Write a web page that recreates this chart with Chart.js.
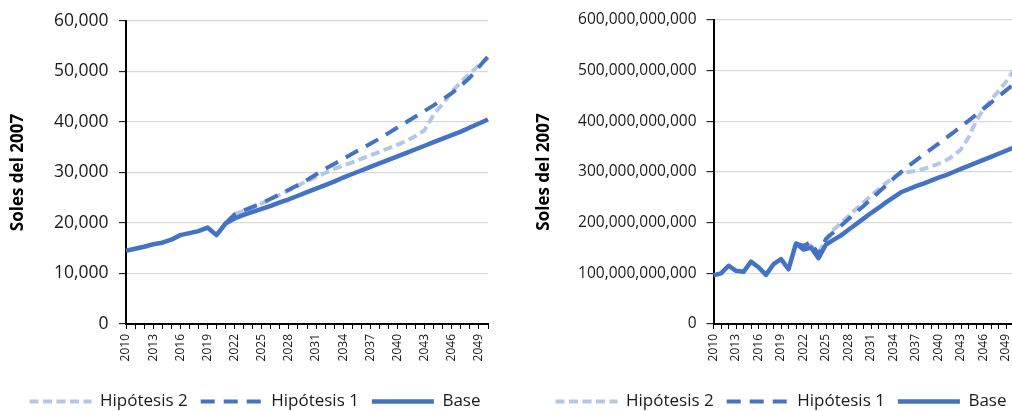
<!DOCTYPE html>
<html>
<head>
<meta charset="utf-8">
<script src="https://cdn.jsdelivr.net/npm/chart.js@4.4.1/dist/chart.umd.min.js"></script>
<style>
  html, body { margin: 0; padding: 0; background: #fff; overflow: hidden; width: 1012px; height: 411px; }
  .box { position: absolute; top: 0; height: 420px; }
  #leftBox { left: 0; width: 510px; }
  #rightBox { left: 520px; width: 522px; }
</style>
</head>
<body>
<div class="box" id="leftBox"><canvas id="leftChart"></canvas></div>
<div class="box" id="rightBox"><canvas id="rightChart"></canvas></div>
<script>
// categories
const years = ['2010','2011','2012','2013','2014','2015','2016','2017','2018','2019',
  '2020','2021','2022','2023','2024','2025','2026','2027','2028','2029',
  '2030','2031','2032','2033','2034','2035','2036','2037','2038','2039',
  '2040','2041','2042','2043','2044','2045','2046','2047','2048','2049','2050'];
const tickYears = ['2010','2013','2016','2019','2022','2025','2028','2031','2034','2037','2040','2043','2046','2049'];

// left chart (soles del 2007)
const leftBase = [14500, 14900, 15300, 15800, 16100, 16700, 17600, 18000, 18400, 19100,
  17600, 19900, 20900, 21600, 22200, 22800, 23400, 24100, 24700, 25400,
  26100, 26800, 27500, 28200, 29000, 29700, 30400, 31100, 31800, 32500,
  33200, 33900, 34600, 35300, 36000, 36700, 37400, 38100, 38900, 39700, 40500];
const leftHyp1 = [null, null, null, null, null, null, null, null, null, null,
  null, 19900, 21700, 22500, 23200, 23900, 24800, 25700, 26600, 27500,
  28500, 29600, 30700, 31700, 32700, 33700, 34700, 35700, 36700, 37800,
  38900, 40000, 41100, 42200, 43300, 44500, 45700, 47200, 48800, 50900, 53000];
const leftHyp2 = [null, null, null, null, null, null, null, null, null, null,
  null, 19900, 21800, 22400, 23100, 23900, 24700, 25600, 26500, 27400,
  28300, 29100, 29900, 30700, 31400, 32000, 32700, 33400, 34100, 34800,
  35500, 36300, 37200, 38400, 41500, 43600, 46000, 47900, 49600, 51200, 52700];
const leftYTicks = [0, 10000, 20000, 30000, 40000, 50000, 60000];

// right chart (soles del 2007)
const rightBase = [96e9, 100e9, 115e9, 105e9, 103e9, 123e9, 112e9, 97e9, 118e9, 128e9,
  108e9, 159e9, 147e9, 151e9, 130e9, 157e9, 166e9, 175e9, 186e9, 197e9,
  208e9, 219e9, 229e9, 240e9, 250e9, 260e9, 266e9, 272e9, 277e9, 283e9,
  289e9, 294e9, 300e9, 306e9, 312e9, 318e9, 324e9, 330e9, 336e9, 342e9, 348e9];
const rightHyp1 = [null, null, null, null, null, null, null, null, null, null,
  null, 159e9, 154e9, 162e9, 136e9, 168e9, 181e9, 194e9, 207e9, 220e9,
  233e9, 246e9, 260e9, 273e9, 287e9, 300e9, 312e9, 323e9, 334e9, 345e9,
  356e9, 367e9, 378e9, 390e9, 401e9, 413e9, 425e9, 437e9, 449e9, 461e9, 473e9];
const rightHyp2 = [null, null, null, null, null, null, null, null, null, null,
  null, 159e9, 151e9, 155e9, 140e9, 168e9, 186e9, 199e9, 213e9, 227e9,
  240e9, 253e9, 266e9, 278e9, 290e9, 297e9, 300e9, 302e9, 306e9, 311e9,
  316e9, 323e9, 332e9, 345e9, 368e9, 400e9, 424e9, 442e9, 460e9, 478e9, 500e9];
const rightYTicks = [0, 100e9, 200e9, 300e9, 400e9, 500e9, 600e9];

Chart.defaults.font.family = "'Open Sans', sans-serif";

function fmt(v) {
  return String(Math.round(v)).replace(/\B(?=(\d{3})+(?!\d))/g, ',');
}

function legendLabels(chart) {
  const items = Chart.defaults.plugins.legend.labels.generateLabels(chart);
  items.forEach(it => {
    const ds = chart.data.datasets[it.datasetIndex];
    it.lineDash = ds.borderDash || [];
    it.strokeStyle = ds.borderColor;
    it.fillStyle = ds.borderColor;
    it.lineWidth = ds.borderWidth;
    it.lineCap = 'butt';
    it.pointStyle = 'line';
  });
  return items;
}

function makeChart(id, base, hyp1, hyp2, yTicks, cfg) {
  const ctx = document.getElementById(id);
  return new Chart(ctx, {
    type: 'line',
    data: {
      labels: years,
      datasets: [
        { label: 'Base', data: base, borderColor: '#4472C4', borderWidth: 4.5,
          borderJoinStyle: 'round' },
        { label: 'Hipótesis 1', data: hyp1, borderColor: '#4472C4', borderWidth: 4,
          borderDash: [14, 9] },
        { label: 'Hipótesis 2', data: hyp2, borderColor: '#B4C7E7', borderWidth: 4,
          borderDash: [9, 4.5] }
      ]
    },
    options: {
      responsive: true,
      maintainAspectRatio: false,
      animation: false,
      events: [],
      elements: { point: { radius: 0 }, line: { tension: 0 } },
      layout: { padding: { top: 20, left: 0, right: 0, bottom: 0 } },
      plugins: {
        tooltip: { enabled: false },
        legend: {
          position: 'bottom',
          reverse: true,
          labels: {
            usePointStyle: true,
            pointStyle: 'line',
            pointStyleWidth: 62,
            padding: 13,
            color: '#1a1a1a',
            font: { size: 17 },
            generateLabels: legendLabels
          }
        }
      },
      scales: {
        x: {
          offset: false,
          afterFit: s => { s.height = cfg.xHeight; },
          border: { color: '#000', width: 2 },
          grid: { drawOnChartArea: false, offset: false, tickColor: '#000', tickLength: 5, tickWidth: 1 },
          ticks: {
            autoSkip: false, maxRotation: 90, minRotation: 90, padding: 5,
            color: '#1a1a1a', font: { size: 12 },
            callback: (v, i) => tickYears.includes(years[i]) ? years[i] : ''
          }
        },
        y: {
          min: yTicks[0],
          max: yTicks[yTicks.length - 1],
          afterBuildTicks: s => { s.ticks = yTicks.map(v => ({ value: v })); },
          afterFit: s => { s.width = cfg.yWidth; },
          border: { color: '#000', width: 2 },
          grid: { color: '#d9d9d9', lineWidth: 1.3, tickColor: '#000', tickLength: 7, tickWidth: 1 },
          ticks: { color: '#1a1a1a', font: { size: cfg.ySize }, padding: cfg.yPad, callback: v => fmt(v) },
          title: {
            display: true, text: 'Soles del 2007', color: '#000',
            font: { size: 17, weight: 'bold' },
            padding: { top: cfg.titlePad, bottom: 0 }
          }
        },
        // empty right axis only reserves space on the right
        yRight: {
          position: 'right',
          afterFit: s => { s.width = cfg.rightGap; },
          grid: { display: false },
          border: { display: false },
          ticks: { display: false }
        }
      }
    }
  });
}

makeChart('leftChart', leftBase, leftHyp1, leftHyp2, leftYTicks,
  { yWidth: 126, rightGap: 22, xHeight: 56, ySize: 17.5, yPad: 10.5, titlePad: 8.3 });
makeChart('rightChart', rightBase, rightHyp1, rightHyp2, rightYTicks,
  { yWidth: 193.5, rightGap: 28.5, xHeight: 56, ySize: 15.5, yPad: 10, titlePad: 13.8 });
</script>
</body>
</html>
